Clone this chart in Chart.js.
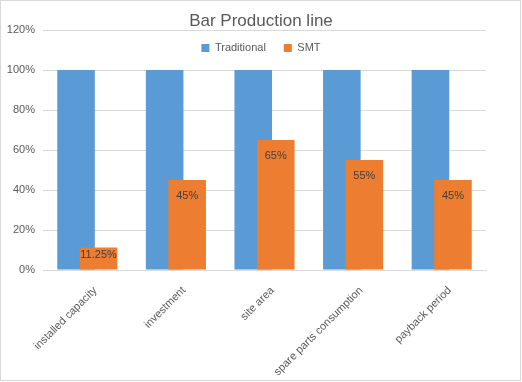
<!DOCTYPE html>
<html><head><meta charset="utf-8">
<script src="https://cdn.jsdelivr.net/npm/chart.js@4.4.1/dist/chart.umd.min.js"></script>
<style>
html,body{margin:0;padding:0;background:#fff;}
#wrap{position:relative;width:522px;height:382px;}
#frame{position:absolute;left:0;top:0;width:521px;height:381px;box-sizing:border-box;border:1px solid #d9d9d9;pointer-events:none;}
canvas{display:block;}
</style></head><body>
<div id="wrap"><canvas id="c" width="522" height="382"></canvas><div id="frame"></div></div>
<script>
const categories = ['installed capacity', 'investment', 'site area', 'spare parts consumption', 'payback period'];
const traditional = [100, 100, 100, 100, 100];
const smt = [11.25, 45, 65, 55, 45];
const yMin = 0, yMax = 120, yStep = 20;

const FONT = '"Liberation Sans", Arial, sans-serif';
const TEXT = '#595959';

const helper = {
  id: 'helper',
  afterLayout(chart) {
    const W = chart.width;
    const t = chart.titleBlock;
    if (t) { t.left = 0; t.right = W; t.width = W; }
    const lg = chart.legend;
    if (lg) {
      lg.left = 0; lg.right = W; lg.width = W;
      lg.top = 48 - 18 - 5.5; lg.height = 40; lg.bottom = lg.top + 40;
    }
  },
  beforeDatasetsDraw(chart) {
    for (let i = 0; i < chart.data.datasets.length; i++) {
      chart.getDatasetMeta(i).controller.draw();
    }
    return false;
  },
  afterDraw(chart) {
    const meta = chart.getDatasetMeta(1);
    const ctx = chart.ctx;
    ctx.save();
    ctx.font = '11px ' + FONT;
    ctx.fillStyle = '#404040';
    ctx.textAlign = 'center';
    ctx.textBaseline = 'middle';
    meta.data.forEach((bar, i) => {
      const h = bar.base - bar.y;
      ctx.fillText(smt[i] + '%', bar.x, bar.y + Math.min(15.5, h / 3));
    });
    ctx.restore();
  }
};

new Chart(document.getElementById('c'), {
  type: 'bar',
  data: {
    labels: categories,
    datasets: [
      { label: 'Traditional', data: traditional, backgroundColor: '#5B9BD5' },
      { label: 'SMT', data: smt, backgroundColor: '#ED7D31' }
    ]
  },
  options: {
    responsive: false,
    animation: false,
    categoryPercentage: 0.508,
    barPercentage: 1.67,
    layout: { padding: { left: 0, right: 36, top: 0, bottom: 0 } },
    plugins: {
      title: {
        display: true, text: 'Bar Production line', color: TEXT,
        font: { family: FONT, size: 17, weight: 'normal', lineHeight: 1 },
        padding: { top: 13, bottom: 0 }
      },
      legend: {
        display: true, position: 'top', maxHeight: 0.001,
        labels: { color: TEXT, font: { family: FONT, size: 11 }, boxWidth: 8, boxHeight: 8, padding: 18 }
      },
      tooltip: { enabled: false }
    },
    scales: {
      x: {
        grid: { display: false },
        border: { display: true, color: '#d9d9d9' },
        ticks: { color: TEXT, font: { family: FONT, size: 11 }, minRotation: 45, maxRotation: 45, labelOffset: 8, padding: 6 },
        afterFit(s) { s.height = 112; }
      },
      y: {
        min: yMin, max: yMax,
        grid: { color: '#d9d9d9', drawTicks: false },
        border: { display: false },
        ticks: { stepSize: yStep, color: TEXT, font: { family: FONT, size: 11 }, padding: 8, callback: v => v + '%' },
        afterFit(s) { s.width = 43; }
      }
    }
  },
  plugins: [helper]
});
</script>
</body></html>
